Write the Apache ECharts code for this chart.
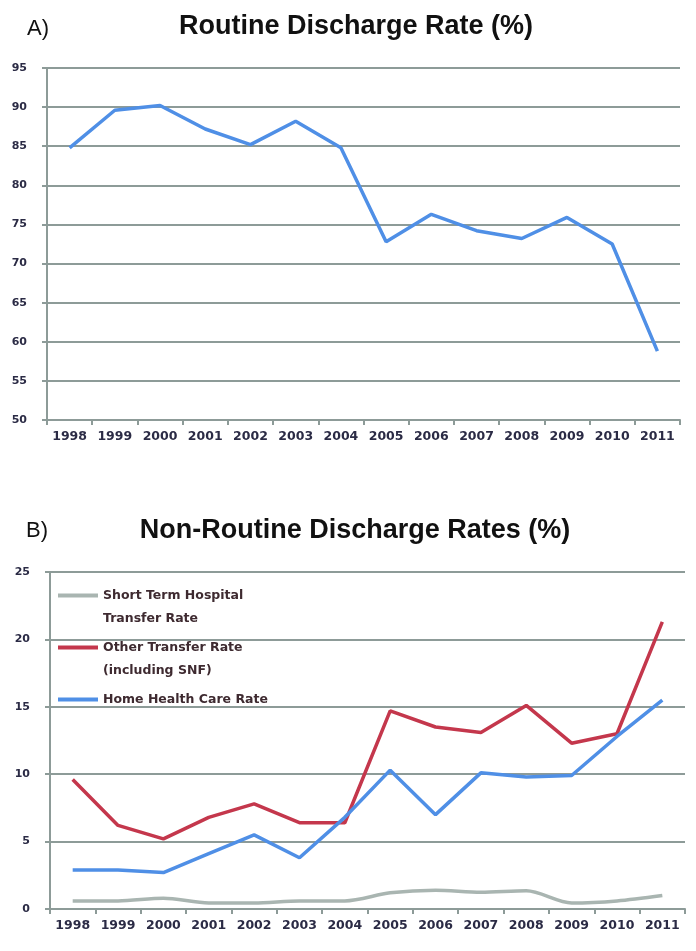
<!DOCTYPE html>
<html>
<head>
<meta charset="utf-8">
<script src="https://cdn.jsdelivr.net/npm/echarts@6/dist/echarts.min.js"></script>
<style>
html,body{margin:0;padding:0;background:#fff;}
#chart{width:696px;height:951px;}
</style>
</head>
<body>
<div id="chart"></div>
<script>
const years = ['1998','1999','2000','2001','2002','2003','2004','2005','2006','2007','2008','2009','2010','2011'];
const routineRate = [84.8, 89.6, 90.2, 87.2, 85.2, 88.2, 84.8, 72.8, 76.3, 74.2, 73.2, 75.9, 72.5, 58.8];
const shortTermTransfer = [0.6, 0.6, 0.8, 0.45, 0.45, 0.6, 0.6, 1.2, 1.4, 1.25, 1.35, 0.45, 0.6, 1.0];
const otherTransfer = [9.6, 6.2, 5.2, 6.8, 7.8, 6.4, 6.4, 14.7, 13.5, 13.1, 15.1, 12.3, 13.0, 21.3];
const homeHealth = [2.9, 2.9, 2.7, 4.1, 5.5, 3.8, 6.8, 10.3, 7.0, 10.1, 9.8, 9.9, 12.8, 15.5];
const topTicks = {min: 50, max: 95, interval: 5};
const bottomTicks = {min: 0, max: 25, interval: 5};
const names = ['Short Term Hospital\nTransfer Rate', 'Other Transfer Rate\n(including SNF)', 'Home Health Care Rate'];

const gridColor = '#8d9b98';
const labelColor = '#2b2b45';
const blue = '#4f8fe6';
const red = '#c4374c';
const gray = '#a9b5b1';

function xAxis(gi) {
  return {
    type: 'category', gridIndex: gi, data: years, boundaryGap: true,
    axisLine: {lineStyle: {color: gridColor, width: 2}},
    axisTick: {show: true, length: 5, lineStyle: {color: gridColor, width: 2}},
    axisLabel: {interval: 0, color: labelColor, fontFamily: 'DejaVu Sans', fontWeight: 'bold', fontSize: 12.5, margin: 10}
  };
}
function yAxis(gi, t, margin) {
  return {
    type: 'value', gridIndex: gi, min: t.min, max: t.max, interval: t.interval,
    axisLine: {show: true, lineStyle: {color: gridColor, width: 2}},
    axisTick: {show: true, length: 5, lineStyle: {color: gridColor, width: 2}},
    splitLine: {show: true, lineStyle: {color: gridColor, width: 2}},
    axisLabel: {color: labelColor, fontFamily: 'DejaVu Sans', fontWeight: 'bold', fontSize: 11, margin: margin}
  };
}

const chart = echarts.init(document.getElementById('chart'), null, {renderer: 'canvas'});
chart.setOption({
  animation: false,
  backgroundColor: '#fff',
  title: [
    {text: 'A)', left: 22, top: 13, textStyle: {fontFamily: 'Liberation Sans', fontWeight: 'normal', fontSize: 22, color: '#111'}},
    {text: 'Routine Discharge Rate (%)', left: 351, textAlign: 'center', top: 8, textStyle: {fontFamily: 'Liberation Sans', fontWeight: 'bold', fontSize: 27, color: '#111'}},
    {text: 'B)', left: 21, top: 515, textStyle: {fontFamily: 'Liberation Sans', fontWeight: 'normal', fontSize: 22, color: '#111'}},
    {text: 'Non-Routine Discharge Rates (%)', left: 350, textAlign: 'center', top: 512, textStyle: {fontFamily: 'Liberation Sans', fontWeight: 'bold', fontSize: 27, color: '#111'}}
  ],
  legend: {
    left: 58, top: 561, padding: 0, orient: 'vertical', itemWidth: 40, itemHeight: 4, itemGap: -17,
    icon: 'rect',
    formatter: function (n) { return ' \n' + n + (n.indexOf('\n') < 0 ? '\n ' : ''); },
    textStyle: {fontFamily: 'DejaVu Sans', fontWeight: 'bold', fontSize: 12.5, color: '#3e2a30', lineHeight: 23},
    data: names
  },
  grid: [
    {left: 47, right: 16, top: 68, bottom: 531},
    {left: 50, right: 11, top: 572, bottom: 42}
  ],
  xAxis: [xAxis(0), xAxis(1)],
  yAxis: [yAxis(0, topTicks, 20), yAxis(1, bottomTicks, 20)],
  series: [
    {type: 'line', name: 'Routine', xAxisIndex: 0, yAxisIndex: 0, data: routineRate, symbol: 'none', lineStyle: {color: blue, width: 3.5}, itemStyle: {color: blue}},
    {type: 'line', name: names[0], xAxisIndex: 1, yAxisIndex: 1, data: shortTermTransfer, symbol: 'none', smooth: 0.3, lineStyle: {color: gray, width: 3.5}, itemStyle: {color: gray}},
    {type: 'line', name: names[1], xAxisIndex: 1, yAxisIndex: 1, data: otherTransfer, symbol: 'none', lineStyle: {color: red, width: 3.5}, itemStyle: {color: red}},
    {type: 'line', name: names[2], xAxisIndex: 1, yAxisIndex: 1, data: homeHealth, symbol: 'none', lineStyle: {color: blue, width: 3.5}, itemStyle: {color: blue}}
  ]
});
</script>
</body>
</html>
